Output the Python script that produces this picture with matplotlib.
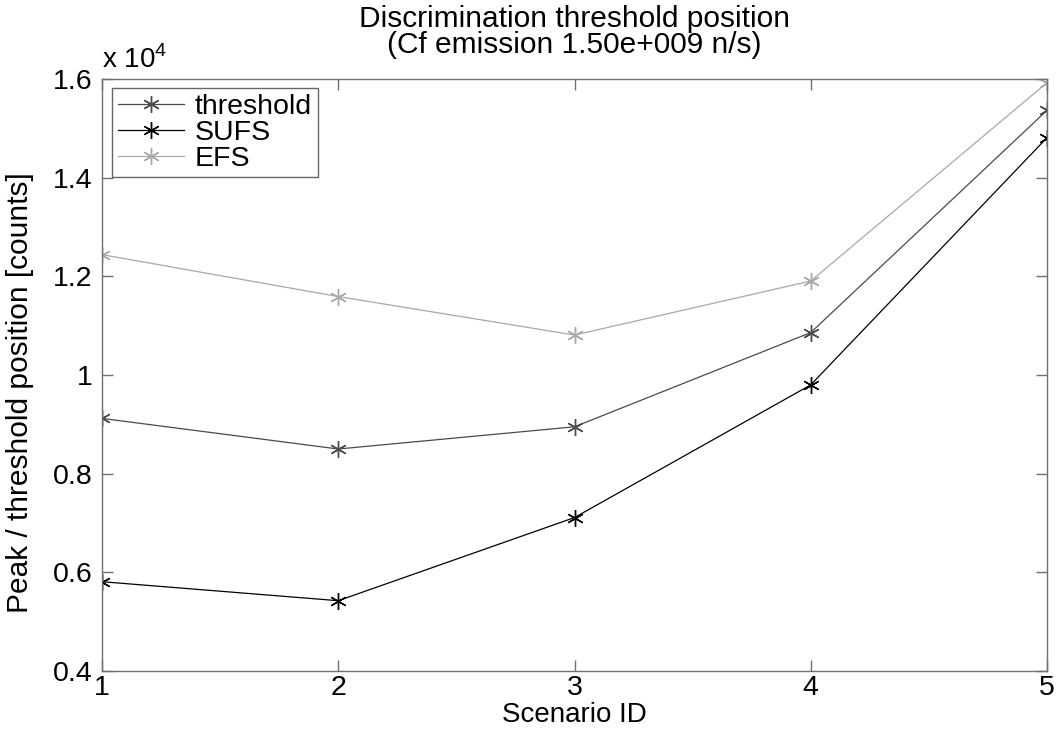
import matplotlib
matplotlib.use('Agg')
import matplotlib.pyplot as plt
from matplotlib.ticker import FuncFormatter

plt.rcParams['font.family'] = ['Liberation Sans', 'DejaVu Sans']

scenario = [1, 2, 3, 4, 5]
# counts
threshold = [9120, 8500, 8950, 10860, 15365]
sufs = [5810, 5425, 7110, 9800, 14810]
efs = [12440, 11590, 10810, 11905, 15925]

fig = plt.figure(figsize=(10.59, 7.30), dpi=100)
ax = fig.add_axes([102/1059, 59/730, 945/1059, 592/730])

ast = (6, 2, 0)
ax.plot(scenario, threshold, color='#4a4a4a', lw=0.9, marker=ast, ms=12, mew=1.0, label='threshold')
ax.plot(scenario, sufs, color='black', lw=0.9, marker=ast, ms=12, mew=1.0, label='SUFS')
ax.plot(scenario, efs, color='#a8a8a8', lw=0.9, marker=ast, ms=12, mew=1.0, label='EFS')

ax.set_xlim(1, 5)
ax.set_ylim(4000, 16000)
ax.set_xticks(scenario)
ax.set_yticks([4000, 6000, 8000, 10000, 12000, 14000, 16000])
ax.yaxis.set_major_formatter(FuncFormatter(lambda v, p: '%g' % (v / 1e4)))
ax.tick_params(direction='in', length=8, width=1, color='#707070', labelsize=20.5,
               top=True, right=True)
ax.tick_params(axis='x', pad=3)
ax.tick_params(axis='y', pad=7)
for s in ax.spines.values():
    s.set_color('#707070')
    s.set_linewidth(1)

ax.set_xlabel('Scenario ID', fontsize=20, labelpad=0.5)
ax.set_ylabel('Peak / threshold position [counts]', fontsize=21.5)
ax.yaxis.set_label_coords(-0.072, 0.47)
ax.set_title('Discrimination threshold position\n(Cf emission 1.50e+009 n/s)',
             fontsize=21.5, pad=19, linespacing=0.88)
ax.text(0.0, 1.008, r'x 10$^{\mathregular{4}}$', transform=ax.transAxes,
        fontsize=20, ha='left', va='bottom')

leg = ax.legend(loc='upper left', bbox_to_anchor=(0.011, 0.985), fontsize=20.5,
                frameon=True, fancybox=False, borderpad=0.2, labelspacing=0.0,
                handlelength=2.3, handletextpad=0.4, borderaxespad=0)
leg.get_frame().set_edgecolor('#404040')
leg.get_frame().set_linewidth(1)

fig.savefig('out.png', dpi=100)
